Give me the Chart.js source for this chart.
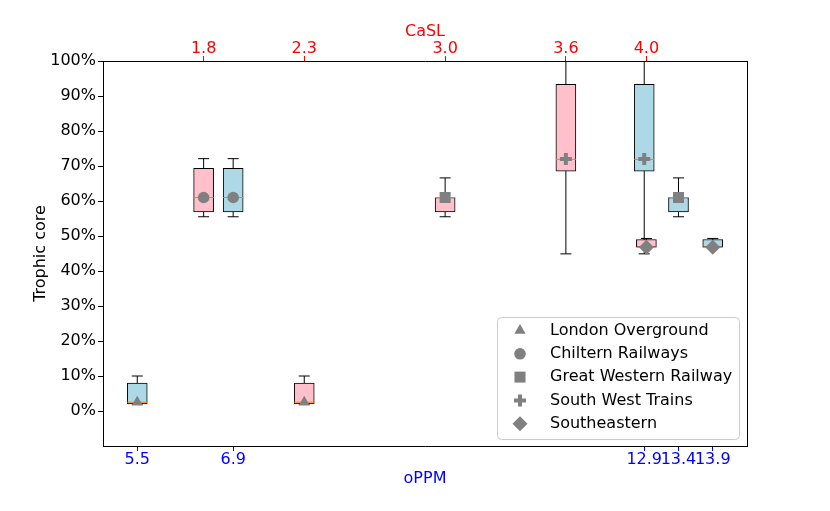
<!DOCTYPE html>
<html>
<head>
<meta charset="UTF-8">
<title>Trophic core</title>
<style>
    body { margin: 0; background: #fff; }
    #wrap { width: 830px; height: 511px; }
</style>
<script src="https://cdn.jsdelivr.net/npm/chart.js"></script>
</head>
<body>
<div id="wrap"><canvas id="chart" width="830" height="511"></canvas></div>
<script>
// one box per operator on each axis (pink = CaSL on top, blue = oPPM on bottom)
const operators = ['London Overground', 'Chiltern Railways', 'Great Western Railway', 'South West Trains', 'Southeastern'];
const caslPos = [2.3, 1.8, 3.0, 3.6, 4.0];
const oppmPos = [5.5, 6.9, 13.4, 12.9, 13.9];
const whiskLow  = [0.020, 0.555, 0.555, 0.449, 0.466];
const boxLow    = [0.020, 0.569, 0.569, 0.685, 0.468];
const medians   = [0.025, 0.610, 0.610, 0.719, 0.468];
const boxHigh   = [0.080, 0.693, 0.610, 0.933, 0.490];
const whiskHigh = [0.100, 0.721, 0.666, 1.000, 0.493];
const means     = [0.025, 0.610, 0.610, 0.720, 0.468];

const caslTicks = [1.8, 2.3, 3.0, 3.6, 4.0];
const oppmTicks = [5.5, 6.9, 12.9, 13.4, 13.9];
const yTicks = [0, 0.1, 0.2, 0.3, 0.4, 0.5, 0.6, 0.7, 0.8, 0.9, 1.0];

// marker look
const markers = ['triangle', 'circle', 'rect', 'cross', 'rectRot'];
const markerRadius = [6.5, 5.8, 7.8, 6, 7.5];
const markerBorder = [0, 0, 0, 4, 0];
const GRAY = '#808080';

Chart.defaults.font.family = 'DejaVu Sans';
Chart.defaults.font.size = 16;
Chart.defaults.color = '#000';

const font = { family: 'DejaVu Sans', size: 16, lineHeight: 1 };

function whiskerData(pos) {
    const pts = [];
    pos.forEach((x, i) => {
        pts.push({ x: x, y: whiskLow[i] }, { x: x, y: whiskHigh[i] }, { x: x, y: null });
    });
    return pts;
}

function groupDatasets(pos, axis, fill) {
    return [
        {
            type: 'line', xAxisID: axis, yAxisID: 'y', order: 6,
            data: whiskerData(pos),
            borderColor: '#000', borderWidth: 1, pointRadius: 0, spanGaps: false, fill: false, tension: 0
        },
        {
            type: 'bar', xAxisID: axis, yAxisID: 'y', order: 5,
            data: pos.map((x, i) => ({ x: x, y: [boxLow[i], boxHigh[i]] })),
            backgroundColor: fill, borderColor: '#000', borderWidth: 1, borderSkipped: false,
            barThickness: 20, grouped: false
        },
        {
            type: 'scatter', xAxisID: axis, yAxisID: 'y', order: 4,
            data: pos.flatMap((x, i) => [{ x: x, y: whiskLow[i] }, { x: x, y: whiskHigh[i] }]),
            pointStyle: 'line', pointRadius: 5.5, borderColor: '#000', borderWidth: 1
        },
        {
            type: 'scatter', xAxisID: axis, yAxisID: 'y', order: 3,
            data: pos.map((x, i) => ({ x: x, y: medians[i] })),
            pointStyle: 'line', pointRadius: 10, borderColor: '#ff7f0e', borderWidth: 1
        },
        {
            type: 'scatter', xAxisID: axis, yAxisID: 'y', order: 2,
            data: pos.map((x, i) => ({ x: x, y: means[i] })),
            pointStyle: markers, pointRadius: markerRadius,
            backgroundColor: GRAY, borderColor: GRAY, borderWidth: markerBorder
        }
    ];
}

const legendBox = {
    id: 'legendBox',
    afterDraw(chart) {
        const ctx = chart.ctx;
        ctx.save();
        ctx.beginPath();
        ctx.roundRect(497.5, 317.5, 242, 122, 4);
        ctx.fillStyle = 'rgba(255,255,255,0.8)';
        ctx.fill();
        ctx.strokeStyle = '#cccccc';
        ctx.lineWidth = 1;
        ctx.stroke();
        operators.forEach((name, i) => {
            const y = 330.5 + i * 23.3;
            ctx.fillStyle = GRAY;
            ctx.strokeStyle = GRAY;
            ctx.lineWidth = markerBorder[i];
            Chart.helpers.drawPoint(ctx, { pointStyle: markers[i], radius: markerRadius[i], borderWidth: markerBorder[i], rotation: 0 }, 520, y);
            ctx.fillStyle = '#000';
            ctx.font = '16px "DejaVu Sans"';
            ctx.textBaseline = 'middle';
            ctx.textAlign = 'left';
            ctx.fillText(name, 550, y);
        });
        ctx.restore();
    }
};

new Chart(document.getElementById('chart'), {
    type: 'bar',
    data: {
        datasets: groupDatasets(caslPos, 'xTop', '#ffc0cb').concat(groupDatasets(oppmPos, 'x', '#add8e6'))
    },
    options: {
        responsive: false,
        animation: false,
        events: [],
        layout: { padding: 0 },
        plugins: { legend: { display: false }, tooltip: { enabled: false } },
        scales: {
            x: {
                type: 'linear', position: 'bottom', min: 5.0, max: 14.4, offset: false,
                afterBuildTicks: s => { s.ticks = oppmTicks.map(v => ({ value: v })); },
                afterFit: s => { s.height = 65; },
                ticks: { color: '#0000ff', font: font, padding: 1, autoSkip: false, maxRotation: 0, minRotation: 0,
                         callback: v => v.toFixed(1) },
                grid: { drawOnChartArea: false, drawTicks: true, offset: false, tickLength: 5, tickColor: '#0000ff' },
                border: { display: true, color: '#000', width: 1 },
                title: { display: true, text: 'oPPM', color: '#0000ff', font: font, padding: { top: 0, bottom: 24 } }
            },
            xTop: {
                type: 'linear', position: 'top', min: 1.3, max: 4.5, offset: false,
                afterBuildTicks: s => { s.ticks = caslTicks.map(v => ({ value: v })); },
                afterFit: s => { s.height = 61; },
                ticks: { color: '#ff0000', font: font, padding: -1, autoSkip: false, maxRotation: 0, minRotation: 0,
                         callback: v => v.toFixed(1) },
                grid: { drawOnChartArea: false, drawTicks: true, offset: false, tickLength: 5, tickColor: '#ff0000' },
                border: { display: true, color: '#000', width: 1 },
                title: { display: true, text: 'CaSL', color: '#ff0000', font: font, padding: { top: 24, bottom: 0 } }
            },
            y: {
                type: 'linear', position: 'left', min: -0.1, max: 1.0,
                afterBuildTicks: s => { s.ticks = yTicks.map(v => ({ value: v })); },
                afterFit: s => { s.width = 103; },
                ticks: { color: '#000', font: font, padding: 2, callback: v => Math.round(v * 100) + '%' },
                grid: { drawOnChartArea: false, drawTicks: true, tickLength: 5, tickColor: '#000' },
                border: { display: true, color: '#000', width: 1 },
                title: { display: true, text: 'Trophic core', color: '#000', font: font, padding: { top: 33, bottom: 0 } }
            },
            yRight: {
                type: 'linear', position: 'right', min: -0.1, max: 1.0,
                afterFit: s => { s.width = 83; },
                ticks: { display: false },
                grid: { drawOnChartArea: false, drawTicks: false },
                border: { display: true, color: '#000', width: 1 }
            }
        }
    },
    plugins: [legendBox]
});
</script>
</body>
</html>
